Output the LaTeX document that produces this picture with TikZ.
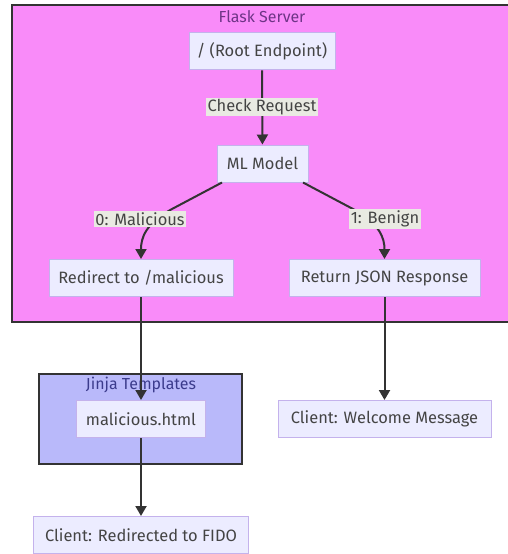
\documentclass[tikz,border=0pt]{standalone}
\usepackage{fontspec}
\setmainfont{Fira Sans}
\usetikzlibrary{arrows.meta}
\definecolor{flaskfill}{HTML}{F98BF9}
\definecolor{jinjafill}{HTML}{B9B9FA}
\definecolor{nodefill}{HTML}{ECECFF}
\definecolor{nodeborder}{HTML}{C4B2EC}
\definecolor{edgecol}{HTML}{333333}
\definecolor{textcol}{HTML}{444444}
\definecolor{labelbg}{HTML}{E9EAE2}
\definecolor{flasktitle}{HTML}{6E3486}
\definecolor{jinjatitle}{HTML}{3B3B8C}
\tikzset{
  box/.style={draw=nodeborder, fill=nodefill, line width=1pt, text=textcol, inner sep=0pt, minimum height=37bp, font=\fontsize{16.5}{18}\selectfont},
  elabel/.style={fill=labelbg, text=textcol, inner sep=1.5bp, font=\fontsize{16.5}{18}\selectfont},
  edge/.style={draw=edgecol, line width=2bp, -{Triangle[length=10bp,width=11bp]}},
  cluster/.style={draw=edgecol, line width=1.4pt},
  ctitle/.style={font=\fontsize{16}{18}\selectfont, inner sep=0pt}
}
\begin{document}
\begin{tikzpicture}[x=1bp,y=-1bp]
\useasboundingbox (0,0) rectangle (508,554);
\fill[white] (0,0) rectangle (508,554);
% clusters
\draw[cluster, fill=flaskfill] (12,5) rectangle (512,322);
\node[ctitle, text=flasktitle] (flasktitle) at (262,17) {Flask Server};
\draw[cluster, fill=jinjafill] (39,374) rectangle (242,464);
\node[ctitle, text=jinjatitle] (jinjatitle) at (141,385) {Jinja Templates};
% nodes
\node[box, minimum width=146bp] (root) at (262,51.5) {/ (Root Endpoint)};
\node[box, minimum width=91bp] (ml) at (262.5,163.5) {ML Model};
\node[box, minimum width=184bp] (redir) at (141,278) {Redirect to /malicious};
\node[box, minimum width=191bp] (json) at (384.5,278) {Return JSON Response};
\node[box, minimum width=129bp] (mal) at (141,419) {malicious.html};
\node[box, minimum width=213bp] (welcome) at (384.5,419) {Client: Welcome Message};
\node[box, minimum width=215bp] (fido) at (141,535) {Client: Redirected to FIDO};
% edges
\draw[edge] (root) -- (ml);
\node[elabel] (lcheck) at (262,107) {Check Request};
\coordinate (mlL) at (222,182.5);
\coordinate (mlR) at (303,182.5);
\draw[edge] (mlL) -- (172,209) .. controls (145,224) and (141,238) .. (redir.north);
\draw[edge] (mlR) -- (353,209) .. controls (380,224) and (384.5,238) .. (json.north);
\node[elabel] (lmal) at (140,219) {0: Malicious};
\node[elabel] (lben) at (385,219) {1: Benign};
\draw[edge] (redir) -- (mal);
\draw[edge] (json) -- (welcome);
\draw[edge] (mal) -- (fido);
\end{tikzpicture}
\end{document}
